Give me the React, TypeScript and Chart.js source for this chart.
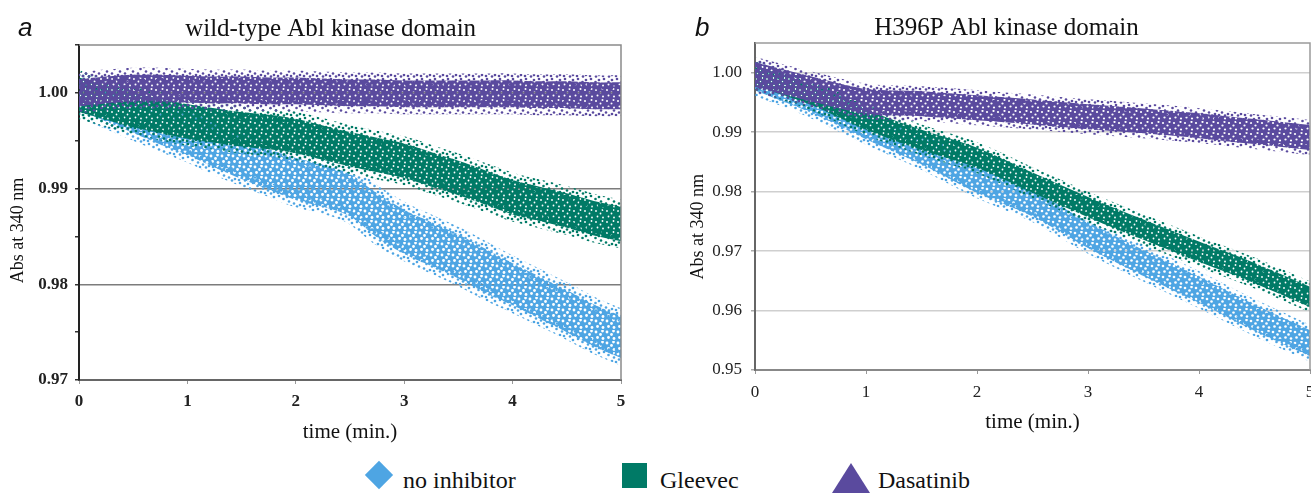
import React, { useEffect, useRef } from 'react';
import { Chart, registerables } from 'chart.js';

Chart.register(...registerables);

// ---------------- data ----------------
// Each series is drawn as the band its dense point cloud covers: upper and lower edge.
const seriesNames = ['no inhibitor', 'Gleevec', 'Dasatinib'];
const seriesColors = ['#4ea5e3', '#007a66', '#5a4a9e'];

// panel a: wild-type Abl kinase domain
const timesA = [0, 0.25, 0.5, 0.75, 1, 1.25, 1.5, 1.75, 2, 2.25, 2.5, 2.75, 3, 3.25, 3.5, 3.75, 4, 4.25, 4.5, 4.75, 5];
const noInhibitorHiA = [1.0014, 1.0006, 0.9994, 0.9984, 0.9973, 0.9962, 0.995, 0.9941, 0.9932, 0.9925, 0.9915, 0.9895, 0.9878, 0.9865, 0.9852, 0.9837, 0.9822, 0.9808, 0.9794, 0.9779, 0.9767];
const noInhibitorLoA = [0.9982, 0.997, 0.9958, 0.9946, 0.9935, 0.9922, 0.991, 0.9899, 0.9888, 0.9881, 0.9871, 0.9849, 0.9832, 0.9819, 0.9806, 0.9791, 0.9778, 0.9764, 0.975, 0.9735, 0.9723];
const gleevecHiA = [1.0016, 1.0008, 1.0, 0.9994, 0.9988, 0.9984, 0.998, 0.9977, 0.9973, 0.9966, 0.9959, 0.9953, 0.9947, 0.9938, 0.9929, 0.9919, 0.9909, 0.9902, 0.9895, 0.9887, 0.9881];
const gleevecLoA = [0.998, 0.9972, 0.9964, 0.9958, 0.9952, 0.9948, 0.9944, 0.9941, 0.9937, 0.993, 0.9923, 0.9917, 0.9911, 0.9902, 0.9893, 0.9883, 0.9873, 0.9866, 0.9859, 0.9851, 0.9845];
const dasatinibHiA = [1.0014, 1.0017, 1.0019, 1.0019, 1.0018, 1.0017, 1.0017, 1.0016, 1.0016, 1.0015, 1.0014, 1.0014, 1.0013, 1.0013, 1.0013, 1.0013, 1.0013, 1.0012, 1.0012, 1.0011, 1.0011];
const dasatinibLoA = [0.9986, 0.9989, 0.9991, 0.9991, 0.999, 0.9989, 0.9989, 0.9988, 0.9988, 0.9987, 0.9986, 0.9986, 0.9985, 0.9985, 0.9985, 0.9985, 0.9985, 0.9984, 0.9984, 0.9983, 0.9983];

// panel b: H396P Abl kinase domain
const timesB = [0, 0.5, 1, 1.5, 2, 2.5, 3, 3.5, 4, 4.5, 5];
const noInhibitorHiB = [1.0014, 0.9977, 0.9932, 0.989, 0.9842, 0.9802, 0.9749, 0.9702, 0.9657, 0.961, 0.9567];
const noInhibitorLoB = [0.997, 0.9933, 0.9888, 0.9846, 0.9798, 0.9758, 0.9705, 0.9658, 0.9613, 0.9566, 0.9523];
const gleevecHiB = [1.0012, 0.998, 0.9938, 0.9904, 0.9874, 0.9832, 0.9791, 0.9753, 0.9716, 0.968, 0.964];
const gleevecLoB = [0.9978, 0.9946, 0.9904, 0.987, 0.984, 0.9798, 0.9757, 0.9719, 0.9682, 0.9646, 0.9606];
const dasatinibHiB = [1.0018, 0.9994, 0.9973, 0.9969, 0.9962, 0.9955, 0.9947, 0.994, 0.9932, 0.9922, 0.9912];
const dasatinibLoB = [0.9976, 0.9952, 0.9931, 0.9927, 0.992, 0.9913, 0.9905, 0.9898, 0.989, 0.988, 0.987];

// axes
const xRange = [0, 5];
const xStep = 1;
const yRangeA = [0.97, 1.005];
const yRangeB = [0.95, 1.005];
const yMajorStep = 0.01;
const yMinorStepA = 0.005;

const titleA = 'wild-type Abl kinase domain';
const titleB = 'H396P Abl kinase domain';
const yTitle = 'Abs at 340 nm';
const xTitle = 'time (min.)';

// ---------------- styling helpers ----------------
const SERIF = "'Liberation Serif', 'Times New Roman', Times, serif";
const SANS = "'Liberation Sans', Arial, Helvetica, sans-serif";
const NB = '\u00a0';

// mostly solid tile with a few white speckles (core of the point cloud)
function makeCore(color: string, holes: number[][], size: number, r: number) {
  const c = document.createElement('canvas');
  c.width = size;
  c.height = size;
  const g = c.getContext('2d')!;
  g.fillStyle = color;
  g.fillRect(0, 0, size, size);
  g.globalCompositeOperation = 'destination-out';
  for (const [x, y] of holes) {
    g.beginPath();
    g.arc(x, y, r, 0, Math.PI * 2);
    g.fill();
  }
  return g.createPattern(c, 'repeat')!;
}
// scattered dots tile (sparse fringe of the cloud)
function makeDots(color: string, dots: number[][], size: number, r: number) {
  const c = document.createElement('canvas');
  c.width = size;
  c.height = size;
  const g = c.getContext('2d')!;
  g.fillStyle = color;
  for (const [x, y] of dots) {
    for (const dx of [-size, 0, size]) {
      for (const dy of [-size, 0, size]) {
        g.beginPath();
        g.arc(x + dx, y + dy, r, 0, Math.PI * 2);
        g.fill();
      }
    }
  }
  return g.createPattern(c, 'repeat')!;
}
const coreHoles = [[2, 2], [6.5, 4.5], [3.5, 7.5], [9, 8.5], [8.5, 1]];
const fringeDots = [[1, 2], [6, 1], [10.5, 4], [3, 6.5], [8, 8.5], [5, 11], [11, 11.5], [1, 10]];

const isMajor = (v: number) => Math.abs(v / yMajorStep - Math.round(v / yMajorStep)) < 1e-6;

type Band = { hi: number[]; lo: number[]; color: string; holeR: number };

type PanelOpts = {
  times: number[];
  bands: Band[]; // first band is drawn on top
  title: string;
  titleLead: number;
  yRange: number[];
  yStep: number;
  padLeft: number;
  padRight: number;
  yWidth: number;
  xHeight: number;
  fringe: number;
  gridColor: string;
  yBorder: string;
  xBorder: string;
  frameColor: string;
  bold: boolean;
  titlePad: { top: number; bottom: number };
  yTitlePadTop: number;
  yTitleShift: number;
  xTitlePadBottom: number;
  xTickPad: number;
  yTickPad: number;
  yTickColor: string;
};

function buildChart(canvas: HTMLCanvasElement, o: PanelOpts) {
  const datasets: any[] = [];
  o.bands.forEach((b) => {
    const core = makeCore(b.color, coreHoles, 11, b.holeR);
    const fringe = makeDots(b.color, fringeDots, 13, 1.3);
    const hiPts = o.times.map((t, i) => ({ x: t, y: b.hi[i] }));
    const loPts = o.times.map((t, i) => ({ x: t, y: b.lo[i] }));
    datasets.push({
      data: hiPts,
      borderColor: fringe,
      borderWidth: o.fringe,
      pointRadius: 0,
      fill: false,
      tension: 0.35,
      clip: 0,
    });
    datasets.push({
      data: loPts,
      borderColor: fringe,
      borderWidth: o.fringe,
      backgroundColor: core,
      pointRadius: 0,
      fill: '-1',
      tension: 0.35,
      clip: 0,
    });
  });

  const frame = {
    id: 'frame',
    afterDatasetsDraw(chart: any) {
      const { ctx, chartArea: a } = chart;
      ctx.save();
      ctx.strokeStyle = o.frameColor;
      ctx.lineWidth = 1.5;
      ctx.beginPath();
      ctx.moveTo(a.left, a.top);
      ctx.lineTo(a.right, a.top);
      ctx.lineTo(a.right, a.bottom);
      ctx.stroke();
      ctx.restore();
    },
  };

  const weight = o.bold ? 'bold' : 'normal';
  return new Chart(canvas, {
    type: 'line',
    data: { datasets },
    plugins: [frame],
    options: {
      animation: false,
      responsive: false,
      events: [],
      layout: { padding: { left: o.padLeft, right: o.padRight, top: 0, bottom: 0 } },
      plugins: {
        legend: { display: false },
        tooltip: { enabled: false },
        title: {
          display: true,
          text: NB.repeat(o.titleLead) + o.title,
          color: '#111',
          font: { family: SERIF, size: 25, weight: 'normal' },
          padding: o.titlePad,
        },
      },
      scales: {
        x: {
          type: 'linear',
          min: xRange[0],
          max: xRange[1],
          ticks: {
            stepSize: xStep,
            color: '#222',
            padding: o.xTickPad,
            font: { family: SERIF, size: 17, weight: weight },
            callback: (v: any) => String(v),
          },
          grid: { drawOnChartArea: false, tickLength: 4, color: '#999' },
          border: { color: o.xBorder, width: 2 },
          title: {
            display: true,
            text: xTitle,
            color: '#111',
            font: { family: SERIF, size: 21, weight: 'normal' },
            padding: { top: 0, bottom: o.xTitlePadBottom },
          },
          afterFit: (s: any) => {
            s.height = o.xHeight;
            s.paddingLeft = 0;
            s.paddingRight = 0;
          },
        },
        y: {
          type: 'linear',
          min: o.yRange[0],
          max: o.yRange[1],
          ticks: {
            stepSize: o.yStep,
            includeBounds: false,
            color: '#222',
            padding: o.yTickPad,
            font: { family: SERIF, size: 17, weight: weight },
            callback: (v: any) => (isMajor(Number(v)) ? Number(v).toFixed(2) : ''),
          },
          grid: {
            color: (ctx: any) => (ctx.tick && isMajor(ctx.tick.value) ? o.gridColor : 'rgba(0,0,0,0)'),
            lineWidth: 1.5,
            tickLength: 4,
            tickColor: o.yTickColor,
          },
          border: { color: o.yBorder, width: 2 },
          title: {
            display: true,
            text: yTitle + NB.repeat(o.yTitleShift),
            color: '#111',
            font: { family: SERIF, size: 18, weight: 'normal' },
            padding: { top: o.yTitlePadTop, bottom: 0 },
          },
          afterFit: (s: any) => {
            s.width = o.yWidth;
            s.paddingTop = 0;
            s.paddingBottom = 0;
          },
        },
      },
    } as any,
  });
}

export default function App() {
  const refA = useRef<HTMLCanvasElement>(null);
  const refB = useRef<HTMLCanvasElement>(null);

  useEffect(() => {
    const a = buildChart(refA.current!, {
      times: timesA,
      bands: [
        { hi: dasatinibHiA, lo: dasatinibLoA, color: seriesColors[2], holeR: 1.0 },
        { hi: gleevecHiA, lo: gleevecLoA, color: seriesColors[1], holeR: 0.9 },
        { hi: noInhibitorHiA, lo: noInhibitorLoA, color: seriesColors[0], holeR: 1.4 },
      ],
      title: titleA,
      titleLead: 5,
      yRange: yRangeA,
      yStep: yMinorStepA,
      padLeft: 9,
      padRight: 34,
      yWidth: 70,
      xHeight: 70,
      fringe: 14,
      gridColor: '#7c7c7c',
      yBorder: '#222',
      xBorder: '#666',
      frameColor: '#8a8a8a',
      bold: true,
      titlePad: { top: 14, bottom: 1 },
      yTitlePadTop: -1.8,
      yTitleShift: 8,
      xTitlePadBottom: 5,
      xTickPad: 7,
      yTickPad: 7,
      yTickColor: '#333',
    });
    const b = buildChart(refB.current!, {
      times: timesB,
      bands: [
        { hi: dasatinibHiB, lo: dasatinibLoB, color: seriesColors[2], holeR: 1.1 },
        { hi: gleevecHiB, lo: gleevecLoB, color: seriesColors[1], holeR: 0.9 },
        { hi: noInhibitorHiB, lo: noInhibitorLoB, color: seriesColors[0], holeR: 1.3 },
      ],
      title: titleB,
      titleLead: 0,
      yRange: yRangeB,
      yStep: yMajorStep,
      padLeft: 48,
      padRight: 1,
      yWidth: 52,
      xHeight: 80,
      fringe: 10,
      gridColor: '#cfcfcf',
      yBorder: '#666',
      xBorder: '#888',
      frameColor: '#9a9a9a',
      bold: false,
      titlePad: { top: 13, bottom: 0 },
      yTitlePadTop: -15.8,
      yTitleShift: 9,
      xTitlePadBottom: 15,
      xTickPad: 8,
      yTickPad: 9,
      yTickColor: '#aaa',
    });
    return () => {
      a.destroy();
      b.destroy();
    };
  }, []);

  const legendText: React.CSSProperties = {
    position: 'absolute',
    top: 468,
    fontFamily: SERIF,
    fontSize: 24,
    lineHeight: '24px',
    color: '#111',
    whiteSpace: 'nowrap',
  };

  return (
    <div
      style={{
        position: 'fixed',
        left: 0,
        top: 0,
        width: 1311,
        height: 493,
        background: '#fff',
        overflow: 'hidden',
      }}
    >
      <canvas ref={refA} width={655} height={450} style={{ position: 'absolute', left: 0, top: 0, display: 'block' }} />
      <canvas ref={refB} width={656} height={450} style={{ position: 'absolute', left: 655, top: 0, display: 'block' }} />

      <span style={{ position: 'absolute', left: 18, top: 14, fontFamily: SANS, fontStyle: 'italic', fontSize: 26, lineHeight: '26px', color: '#111' }}>a</span>
      <span style={{ position: 'absolute', left: 695, top: 14, fontFamily: SANS, fontStyle: 'italic', fontSize: 26, lineHeight: '26px', color: '#111' }}>b</span>

      {/* legend */}
      <div style={{ position: 'absolute', left: 369, top: 465, width: 20, height: 20, background: seriesColors[0], transform: 'rotate(45deg)' }} />
      <span style={{ ...legendText, left: 403 }}>{seriesNames[0]}</span>
      <div style={{ position: 'absolute', left: 622, top: 463, width: 25, height: 25, background: seriesColors[1] }} />
      <span style={{ ...legendText, left: 660 }}>{seriesNames[1]}</span>
      <div
        style={{
          position: 'absolute',
          left: 832,
          top: 463,
          width: 0,
          height: 0,
          borderLeft: '19px solid transparent',
          borderRight: '19px solid transparent',
          borderBottom: '30px solid ' + seriesColors[2],
        }}
      />
      <span style={{ ...legendText, left: 878 }}>{seriesNames[2]}</span>
    </div>
  );
}
